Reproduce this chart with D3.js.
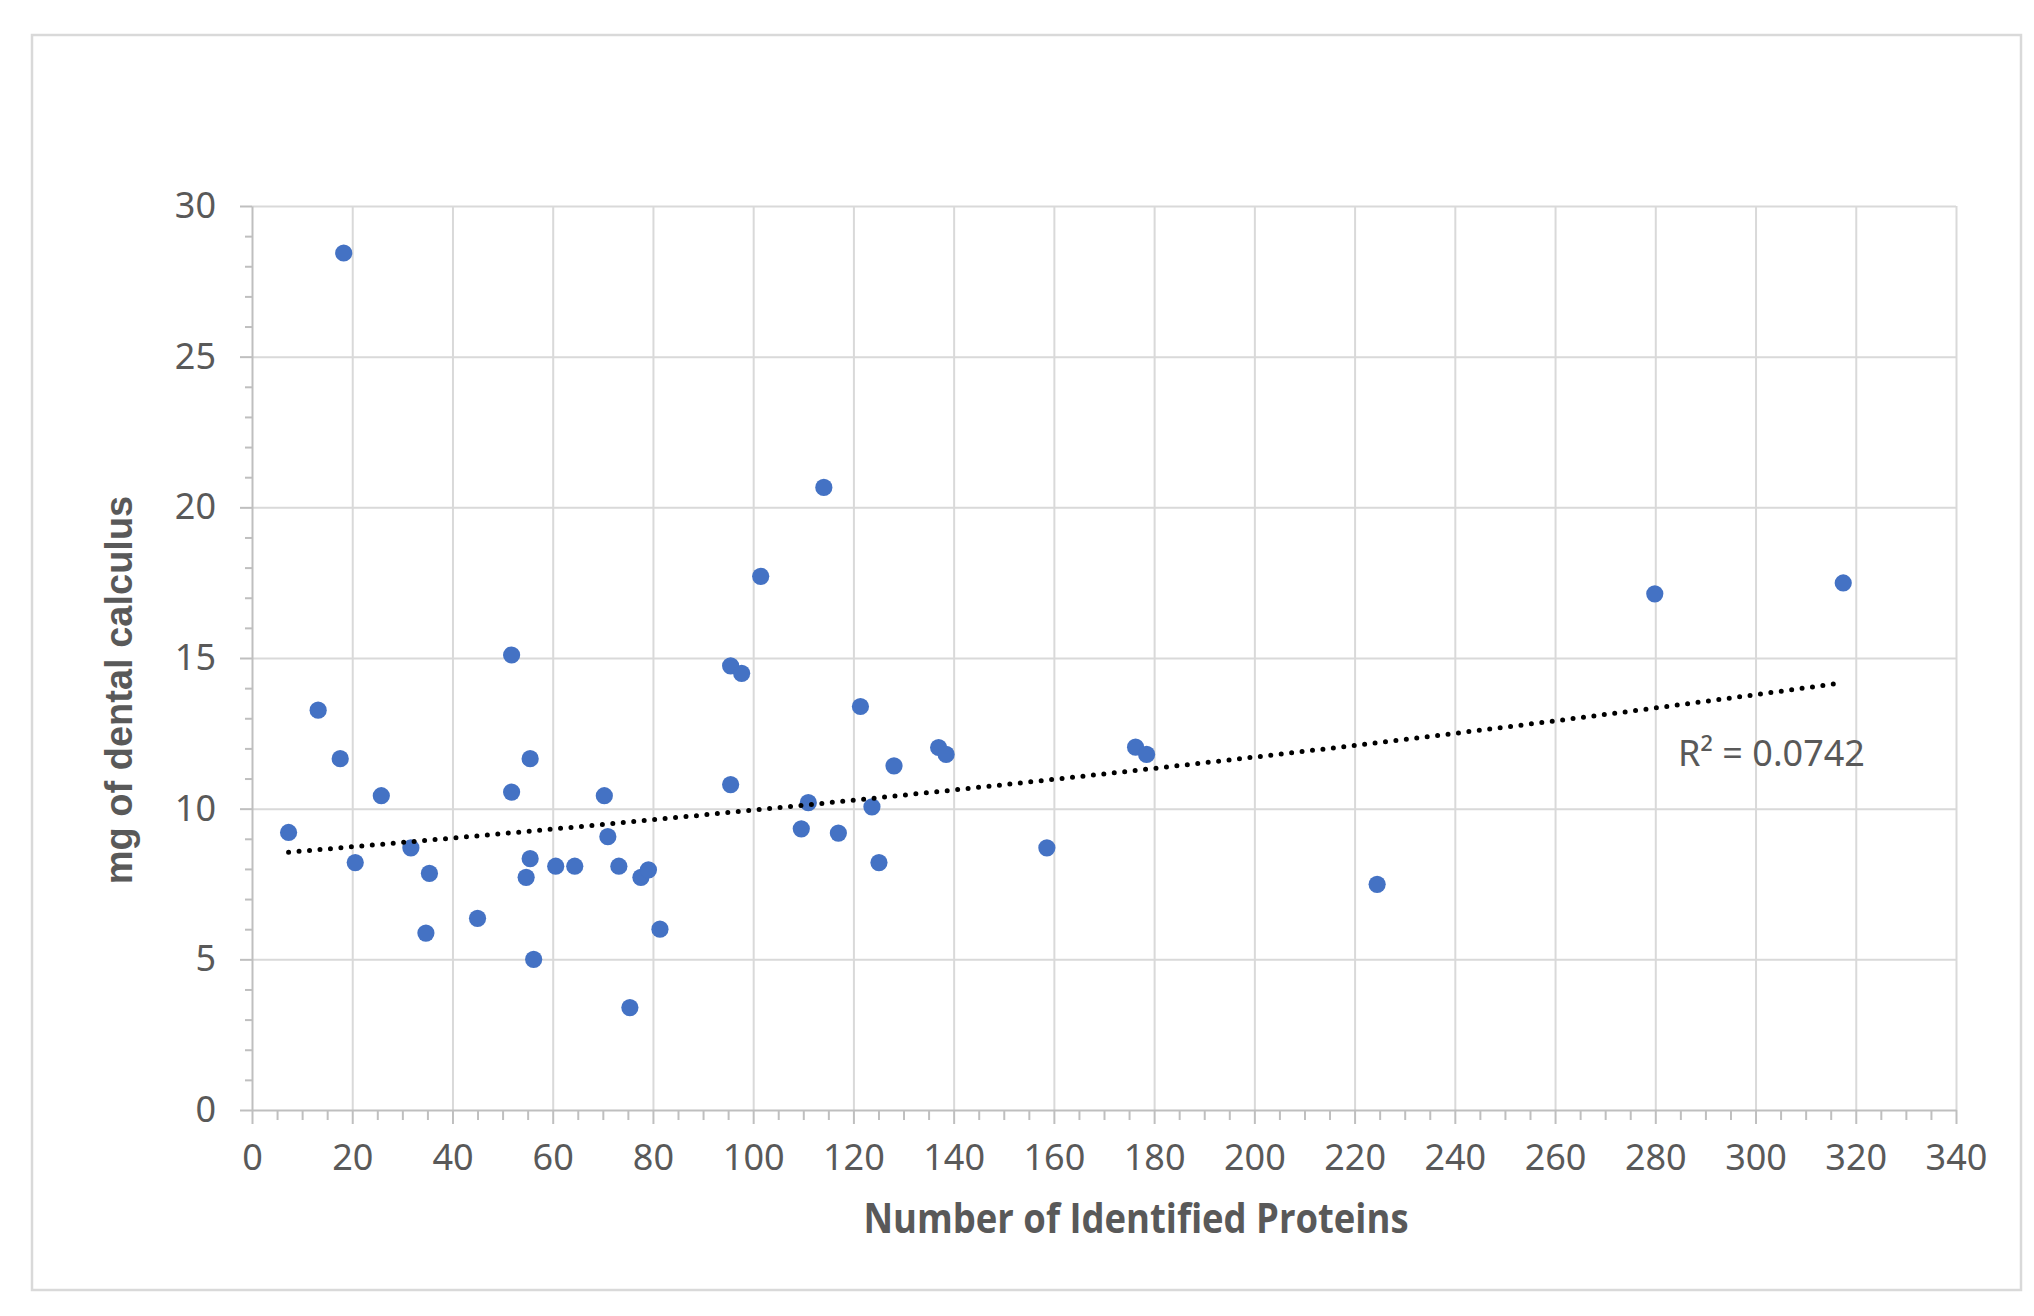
<!DOCTYPE html>
<html lang="en">
<head>
<meta charset="UTF-8">
<title>Dental calculus vs. identified proteins</title>
<script src="https://d3js.org/d3.v7.min.js"></script>
<style>
  body { margin: 0; background: #fff; }
  .tick text { font-family: "Noto Sans", "Open Sans", sans-serif; font-size: 36px; fill: #595959; }
  .grid line { stroke: #d9d9d9; stroke-width: 2; }
  .grid path { display: none; }
  .axis path, .axis line { stroke: #bfbfbf; stroke-width: 2; }
  .minor path { display: none; }
  .minor line { stroke: #bfbfbf; stroke-width: 2; }
  .dot { fill: #4472c4; }
  .trend { fill: none; stroke: #000; stroke-width: 5; stroke-dasharray: 0 10.5; stroke-linecap: round; }
  .r2 { font-family: "Noto Sans", "Open Sans", sans-serif; font-size: 36px; fill: #595959; }
</style>
</head>
<body>
<svg width="2034" height="1316"></svg>
<script>
// number of identified proteins (x) and mg of dental calculus (y)
const proteins = [7.3, 13.2, 17.6, 18.3, 20.6, 25.8, 31.7, 34.7, 35.4, 45.0,
  51.8, 51.8, 54.7, 55.5, 55.5, 56.2, 60.6, 64.4, 70.3, 71.0,
  73.2, 75.4, 77.6, 79.1, 81.4, 95.5, 95.5, 97.7, 101.5, 109.6,
  111.0, 114.1, 117.0, 121.4, 123.7, 125.1, 128.1, 137.0, 138.5, 158.6,
  176.3, 178.5, 224.5, 279.9, 317.5];
const calculus = [9.21, 13.27, 11.66, 28.44, 8.21, 10.43, 8.70, 5.87, 7.85, 6.36,
  15.10, 10.55, 7.72, 11.66, 8.34, 5.00, 8.09, 8.09, 10.43, 9.07,
  8.09, 3.40, 7.72, 7.97, 6.00, 14.74, 10.80, 14.49, 17.71, 9.33,
  10.20, 20.66, 9.19, 13.39, 10.06, 8.21, 11.42, 12.03, 11.80, 8.70,
  12.04, 11.80, 7.49, 17.13, 17.49];

const xTicks = [0, 20, 40, 60, 80, 100, 120, 140, 160, 180, 200, 220, 240, 260, 280, 300, 320, 340];
const yTicks = [0, 5, 10, 15, 20, 25, 30];

// exponential trendline y = a * e^(b x), coefficients
const trendA = 8.455;
const trendB = 0.001629;
const trendLabel = "R² = 0.0742";

const xTitle = "Number of Identified Proteins";
const yTitle = "mg of dental calculus";

const points = proteins.map((p, i) => ({ x: p, y: calculus[i] }));

const svg = d3.select("svg");

// outer chart frame
svg.append("rect")
  .attr("x", 32).attr("y", 35)
  .attr("width", 1989).attr("height", 1255)
  .attr("fill", "#fff")
  .attr("stroke", "#d9d9d9")
  .attr("stroke-width", 2.5);

const plotLeft = 252, plotRight = 1956, plotTop = 206, plotBottom = 1110;

const x = d3.scaleLinear().domain([0, 340]).range([plotLeft, plotRight]);
const y = d3.scaleLinear().domain([0, 30]).range([plotBottom, plotTop]);

// gridlines
svg.append("g")
  .attr("class", "grid")
  .attr("transform", `translate(0,${plotBottom})`)
  .call(d3.axisBottom(x).tickValues(xTicks.slice(1)).tickSize(-(plotBottom - plotTop)).tickFormat(""));

svg.append("g")
  .attr("class", "grid")
  .attr("transform", `translate(${plotLeft},0)`)
  .call(d3.axisLeft(y).tickValues(yTicks.slice(1)).tickSize(-(plotRight - plotLeft)).tickFormat(""));

// minor ticks
svg.append("g")
  .attr("class", "minor")
  .attr("transform", `translate(0,${plotBottom})`)
  .call(d3.axisBottom(x).tickValues(d3.range(5, 340, 5).filter(v => v % 20)).tickSize(10).tickFormat(""));

svg.append("g")
  .attr("class", "minor")
  .attr("transform", `translate(${plotLeft},0)`)
  .call(d3.axisLeft(y).tickValues(d3.range(1, 30, 1).filter(v => v % 5)).tickSize(7).tickFormat(""));

// main axes
svg.append("g")
  .attr("class", "axis")
  .attr("transform", `translate(0,${plotBottom})`)
  .call(d3.axisBottom(x).tickValues(xTicks).tickSize(14).tickSizeOuter(0).tickPadding(20).tickFormat(d3.format("d")));

svg.append("g")
  .attr("class", "axis")
  .attr("transform", `translate(${plotLeft},0)`)
  .call(d3.axisLeft(y).tickValues(yTicks).tickSize(12).tickSizeOuter(0).tickPadding(24).tickFormat(d3.format("d")));

// points
svg.append("g")
  .selectAll("circle")
  .data(points)
  .join("circle")
  .attr("class", "dot")
  .attr("cx", d => x(d.x))
  .attr("cy", d => y(d.y))
  .attr("r", 8.6);

// trendline, from smallest to largest x
const xmin = d3.min(proteins), xmax = d3.max(proteins);
const trendXs = d3.range(xmin, xmax, 2).concat([xmax]);
svg.append("path")
  .attr("class", "trend")
  .attr("d", d3.line()
    .x(v => x(v))
    .y(v => y(trendA * Math.exp(trendB * v)))(trendXs));

svg.append("text")
  .attr("class", "r2")
  .attr("x", 1678)
  .attr("y", 766)
  .text(trendLabel);

// axis titles
svg.append("text")
  .attr("x", 1136)
  .attr("y", 1233)
  .attr("text-anchor", "middle")
  .attr("font-family", "'Open Sans', 'Noto Sans', sans-serif")
  .attr("font-weight", "bold")
  .attr("font-size", 42)
  .attr("fill", "#595959")
  .attr("textLength", 545)
  .attr("lengthAdjust", "spacingAndGlyphs")
  .text(xTitle);

svg.append("text")
  .attr("transform", "translate(132,690) rotate(-90)")
  .attr("text-anchor", "middle")
  .attr("font-family", "'Liberation Sans', Arial, sans-serif")
  .attr("font-weight", "bold")
  .attr("font-size", 38)
  .attr("fill", "#595959")
  .text(yTitle);
</script>
</body>
</html>
